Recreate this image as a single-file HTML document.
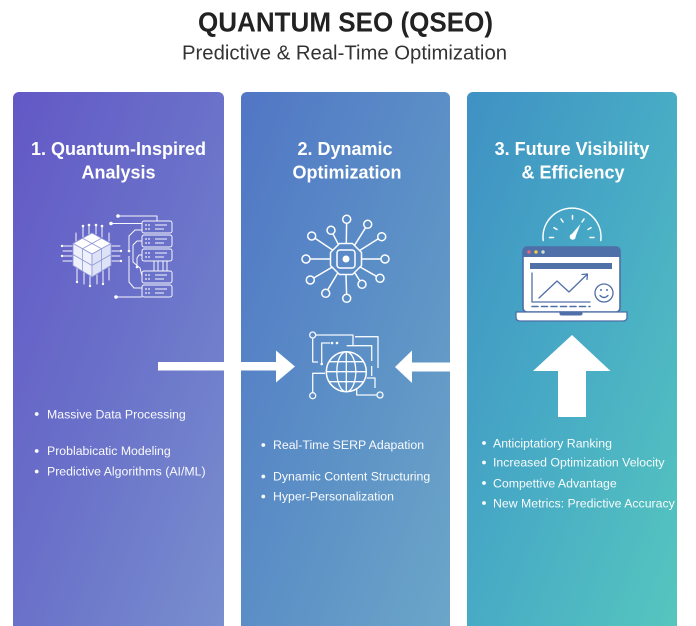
<!DOCTYPE html>
<html><head><meta charset="utf-8"><style>
html,body{margin:0;padding:0;background:#fff;width:696px;height:626px;overflow:hidden}
svg{display:block}
text{font-family:"Liberation Sans",sans-serif}
</style></head><body>
<svg width="696" height="626" viewBox="0 0 696 626" xmlns="http://www.w3.org/2000/svg">
<defs>
<linearGradient id="g1" x1="0" y1="0" x2="1" y2="1"><stop offset="0" stop-color="#6358c6"/><stop offset="0.5" stop-color="#6a72c9"/><stop offset="1" stop-color="#7990ce"/></linearGradient>
<linearGradient id="g2" x1="0" y1="0" x2="1" y2="1"><stop offset="0" stop-color="#5176c5"/><stop offset="0.5" stop-color="#5b8fc6"/><stop offset="1" stop-color="#6ca7c8"/></linearGradient>
<linearGradient id="g3" x1="0" y1="0" x2="1" y2="1"><stop offset="0" stop-color="#3f91c4"/><stop offset="0.5" stop-color="#48acc5"/><stop offset="1" stop-color="#56c7be"/></linearGradient>
</defs>
<rect width="696" height="626" fill="#fff"/>
<!-- titles -->
<text x="345.5" y="31.5" font-size="28" font-weight="bold" fill="#222" text-anchor="middle" textLength="295" lengthAdjust="spacingAndGlyphs">QUANTUM SEO (QSEO)</text>
<text x="344.5" y="59.5" font-size="20" fill="#333" text-anchor="middle" textLength="325" lengthAdjust="spacingAndGlyphs">Predictive &amp; Real-Time Optimization</text>

<!-- panels -->
<rect x="13" y="92" width="211" height="560" rx="6" fill="url(#g1)"/>
<rect x="241" y="92" width="209" height="560" rx="6" fill="url(#g2)"/>
<rect x="467" y="92" width="210" height="560" rx="6" fill="url(#g3)"/>

<!-- panel titles -->
<g font-size="18" font-weight="bold" fill="#fff" text-anchor="middle">
<text x="118.5" y="155">1. Quantum-Inspired</text>
<text x="118.5" y="178.5">Analysis</text>
<text x="345" y="155">2. Dynamic</text>
<text x="347" y="178.5">Optimization</text>
<text x="572" y="155">3. Future Visibility</text>
<text x="573" y="178.5">&amp; Efficiency</text>
</g>

<!-- Panel1 icon: cube -->
<g stroke="#fff" stroke-width="1" fill="none" stroke-linecap="round" opacity="0.95">
<line x1="83" y1="227" x2="83" y2="237"/><line x1="89" y1="226" x2="89" y2="234"/><line x1="96" y1="226" x2="96" y2="234"/><line x1="102" y1="227" x2="102" y2="237"/>
<line x1="76" y1="233" x2="76" y2="241"/><line x1="109" y1="233" x2="109" y2="241"/>
<line x1="63" y1="246" x2="72" y2="246"/><line x1="63" y1="251" x2="72" y2="251"/><line x1="63" y1="256" x2="72" y2="256"/><line x1="63" y1="261" x2="72" y2="261"/>
<line x1="112" y1="246" x2="120" y2="246"/><line x1="112" y1="251" x2="120" y2="251"/><line x1="112" y1="256" x2="120" y2="256"/><line x1="112" y1="261" x2="120" y2="261"/>
<line x1="77" y1="268" x2="77" y2="281"/><line x1="84" y1="272" x2="84" y2="284"/><line x1="90" y1="276" x2="90" y2="285"/><line x1="97" y1="275" x2="97" y2="284"/><line x1="103" y1="271" x2="103" y2="283"/><line x1="109" y1="268" x2="109" y2="280"/>
</g>
<g fill="#fff">
<circle cx="83" cy="226" r="1.3"/><circle cx="89" cy="225" r="1.3"/><circle cx="96" cy="225" r="1.3"/><circle cx="102" cy="226" r="1.3"/>
<circle cx="62" cy="246" r="1.2"/><circle cx="62" cy="256" r="1.2"/><circle cx="121" cy="251" r="1.2"/><circle cx="121" cy="261" r="1.2"/>
<circle cx="77" cy="282" r="1.2"/><circle cx="90" cy="286" r="1.2"/><circle cx="103" cy="284" r="1.2"/>
</g>
<g stroke="#8f98da" stroke-width="0.8" stroke-linejoin="round">
<polygon points="92,233 111,243.5 92,254 73,243.5" fill="#ffffff"/>
<polygon points="73,243.5 92,254 92,277 73,265.5" fill="#eef0fb"/>
<polygon points="92,254 111,243.5 111,265.5 92,277" fill="#dde2f6"/>
<line x1="82.5" y1="238.25" x2="101.5" y2="248.75"/><line x1="101.5" y1="238.25" x2="82.5" y2="248.75"/>
<line x1="82.5" y1="248.75" x2="82.5" y2="271.25"/><line x1="73" y1="254.5" x2="92" y2="265.5"/>
<line x1="101.5" y1="248.75" x2="101.5" y2="271.25"/><line x1="92" y1="265.5" x2="111" y2="254.5"/>
</g>
<!-- servers -->
<g stroke="#fff" stroke-width="1" fill="none" stroke-linejoin="round" opacity="0.95">
<rect x="142" y="221" width="30" height="12" rx="2"/>
<rect x="142" y="235" width="30" height="12" rx="2"/>
<rect x="142" y="249" width="30" height="12" rx="2"/>
<rect x="142" y="271" width="30" height="12" rx="2"/>
<rect x="142" y="285" width="30" height="12" rx="2"/>
<line x1="155" y1="225" x2="167" y2="225"/><line x1="155" y1="229" x2="164" y2="229"/>
<line x1="155" y1="239" x2="167" y2="239"/><line x1="155" y1="243" x2="164" y2="243"/>
<line x1="155" y1="253" x2="167" y2="253"/><line x1="155" y1="257" x2="164" y2="257"/>
<line x1="155" y1="275" x2="167" y2="275"/><line x1="155" y1="279" x2="164" y2="279"/>
<line x1="155" y1="289" x2="167" y2="289"/><line x1="155" y1="293" x2="164" y2="293"/>
<line x1="154" y1="261" x2="154" y2="271"/><line x1="158" y1="261" x2="158" y2="271"/><line x1="163" y1="261" x2="163" y2="271"/><line x1="167" y1="261" x2="167" y2="271"/>
<polyline points="119,216 157,216 157,221"/>
<polyline points="112,223.5 142,223.5"/>
<polyline points="142,230 135,230 129,236 129,250"/>
<polyline points="142,241 137,241 133,245 133,262 140,268 142,276"/>
<polyline points="142,255 139,255 137,258 137,266"/>
<polyline points="129,256 129,282 134,288 142,288"/>
<polyline points="117,297 142,297"/>
</g>
<g fill="#fff">
<circle cx="118" cy="216" r="1.8"/><circle cx="111" cy="223.5" r="1.8"/><circle cx="116" cy="297" r="1.8"/><circle cx="129" cy="251" r="1.3"/><circle cx="137" cy="267" r="1.3"/>
<g opacity="0.95">
<circle cx="146" cy="225" r="0.9"/><circle cx="149" cy="225" r="0.9"/><circle cx="146" cy="229" r="0.9"/><circle cx="149" cy="229" r="0.9"/>
<circle cx="146" cy="239" r="0.9"/><circle cx="149" cy="239" r="0.9"/><circle cx="146" cy="243" r="0.9"/><circle cx="149" cy="243" r="0.9"/>
<circle cx="146" cy="253" r="0.9"/><circle cx="149" cy="253" r="0.9"/><circle cx="146" cy="257" r="0.9"/><circle cx="149" cy="257" r="0.9"/>
<circle cx="146" cy="275" r="0.9"/><circle cx="149" cy="275" r="0.9"/><circle cx="146" cy="279" r="0.9"/><circle cx="149" cy="279" r="0.9"/>
<circle cx="146" cy="289" r="0.9"/><circle cx="149" cy="289" r="0.9"/><circle cx="146" cy="293" r="0.9"/><circle cx="149" cy="293" r="0.9"/>
</g>
</g>

<!-- Panel2 hub -->
<g stroke="#fff" stroke-width="1.5" fill="none" stroke-linejoin="round">
<polygon points="339.5,243.5 352.5,243.5 361.5,252.5 361.5,265.5 352.5,274.5 339.5,274.5 330.5,265.5 330.5,252.5"/>
<rect x="337" y="250" width="18" height="18" rx="3"/>
<line x1="346.3" y1="243" x2="346.6" y2="223.3"/>
<line x1="354.5" y1="245.4" x2="365.6" y2="227.7"/>
<line x1="359.6" y1="250.5" x2="378.3" y2="238.8"/>
<line x1="362" y1="259" x2="381" y2="259"/>
<line x1="359.9" y1="266.9" x2="376.5" y2="276.3"/>
<line x1="354.6" y1="272.5" x2="359.9" y2="280.9"/>
<line x1="346" y1="275" x2="346.6" y2="294.3"/>
<line x1="337.9" y1="272.8" x2="327.7" y2="289.9"/>
<line x1="332.2" y1="267.1" x2="313.7" y2="278"/>
<line x1="330" y1="259" x2="310" y2="259"/>
<line x1="332.7" y1="250.1" x2="315" y2="238.2"/>
<line x1="338.6" y1="244.8" x2="332.9" y2="233.8"/>
<circle cx="346.7" cy="219.3" r="4"/><circle cx="367.7" cy="224.3" r="4"/><circle cx="381.7" cy="236.7" r="4"/><circle cx="385" cy="259" r="4"/>
<circle cx="380" cy="278.3" r="4"/><circle cx="362" cy="284.3" r="4"/><circle cx="346.7" cy="298.3" r="4"/><circle cx="325.7" cy="293.3" r="4"/>
<circle cx="310.3" cy="280" r="4"/><circle cx="306" cy="259" r="4"/><circle cx="311.7" cy="236" r="4"/><circle cx="331" cy="230.3" r="4"/>
</g>
<circle cx="346" cy="259" r="3.5" fill="#fff"/>

<!-- Panel2 globe -->
<g stroke="#fff" stroke-width="1.3" fill="none" stroke-linejoin="round" opacity="0.95">
<polyline points="315.5,335 353,335 353,345"/>
<polyline points="312.7,338 312.7,362 318,362"/>
<polyline points="330,343 321.7,343 321.7,363"/>
<polyline points="346.7,345.7 371.7,345.7 371.7,361"/>
<polyline points="355,336.7 378,336.7 378,368"/>
<polyline points="371.7,376 371.7,366"/>
<polyline points="366.7,378 375,378 375,388"/>
<polyline points="377,395 356.7,395 356.7,388"/>
<polyline points="312.7,392.7 312.7,373.3 325,373.3"/>
<circle cx="312.7" cy="335" r="3"/>
<circle cx="312.7" cy="395.7" r="3"/>
<circle cx="380" cy="395" r="3"/>
</g>
<g fill="#fff"><circle cx="332" cy="343" r="1.3"/><circle cx="337" cy="343" r="1.3"/><circle cx="321.7" cy="364" r="1.3"/></g>
<circle cx="346.3" cy="371.7" r="20" fill="#5d8fc7" stroke="#fff" stroke-width="1.5"/>
<g stroke="#fff" stroke-width="1.3" fill="none">
<ellipse cx="346.3" cy="371.7" rx="9.5" ry="20"/>
<line x1="346.3" y1="351.7" x2="346.3" y2="391.7"/>
<line x1="326.3" y1="371.7" x2="366.3" y2="371.7"/>
<line x1="329" y1="361.7" x2="363.6" y2="361.7"/>
<line x1="329" y1="381.7" x2="363.6" y2="381.7"/>
</g>

<!-- arrows -->
<g fill="#fff">
<rect x="158" y="362" width="120" height="8.5"/>
<polygon points="276,350.5 295,366.5 276,382.5"/>
<rect x="411" y="362.5" width="40" height="9"/>
<polygon points="412,350.5 395,367 412,383"/>
<polygon points="572,335 610.5,371 586,371 586,417 558,417 558,371 533,371"/>
</g>

<!-- Panel3 gauge -->
<g stroke="#fff" stroke-width="1.5" fill="none" stroke-linecap="round">
<path d="M543.2,240.5 A29,29 0 1 1 600.8,240.5"/>
<line x1="549.5" y1="237.5" x2="553.5" y2="237.5"/>
<line x1="554" y1="227.7" x2="557" y2="229.5"/>
<line x1="561" y1="219" x2="563" y2="222"/>
<line x1="572.5" y1="215.5" x2="572.5" y2="219"/>
<line x1="584" y1="219" x2="582" y2="222"/>
<line x1="591" y1="227.7" x2="588" y2="229.5"/>
<line x1="594" y1="237.5" x2="590" y2="237.5"/>
</g>
<polygon points="570.5,235.5 575,238 580.5,224" fill="#fff"/>
<circle cx="572.7" cy="236.7" r="3" fill="#fff"/>

<!-- laptop -->
<rect x="523" y="247" width="97" height="65" rx="4" fill="#fff" stroke="#4d6da7" stroke-width="1.6"/>
<path d="M523,257 L523,251 Q523,247 527,247 L616,247 Q620,247 620,251 L620,257 Z" fill="#4f6fa8"/>
<circle cx="529" cy="252" r="1.7" fill="#e8697c"/><circle cx="536" cy="252" r="1.7" fill="#f3c84d"/><circle cx="543" cy="252" r="1.7" fill="#cfe3d3"/>
<rect x="530" y="263" width="82" height="6" fill="#5070a8"/>
<g stroke="#5070a8" stroke-width="1.3" fill="none" stroke-linejoin="round" stroke-linecap="round">
<polyline points="532,273 532,302 590,302"/>
<line x1="532" y1="306.5" x2="590" y2="306.5" stroke-dasharray="6,3.5" stroke-width="1.6"/>
<polyline points="539,298 557,281 569,292 587,274.5"/>
<polyline points="582,274.5 587.5,274 587,279.5"/>
<circle cx="604" cy="293" r="9"/>
<path d="M600,295.5 Q604,299.5 608,295.5"/>
</g>
<circle cx="601" cy="290" r="1" fill="#5070a8"/><circle cx="607" cy="290" r="1" fill="#5070a8"/>
<path d="M516,312 L627,312 L627,317 Q627,321 623,321 L520,321 Q516,321 516,317 Z" fill="#fff" stroke="#4d6da7" stroke-width="1.3"/>
<path d="M559.5,312 L582.5,312 L582.5,313.5 Q582.5,315.5 580.5,315.5 L561.5,315.5 Q559.5,315.5 559.5,313.5 Z" fill="#4f6fa8"/>

<!-- bullets -->
<g fill="#fff" font-size="12.3" opacity="0.96">
<circle cx="36.7" cy="414" r="1.9"/><text x="47" y="418.3">Massive Data Processing</text>
<circle cx="36.7" cy="451" r="1.9"/><text x="47" y="455">Problabicatic Modeling</text>
<circle cx="36.7" cy="471.5" r="1.9"/><text x="47" y="475.7">Predictive Algorithms (AI/ML)</text>

<circle cx="263.3" cy="445" r="1.9"/><text x="273" y="449">Real-Time SERP Adapation</text>
<circle cx="263.3" cy="476.5" r="1.9"/><text x="273" y="480.7">Dynamic Content Structuring</text>
<circle cx="263.3" cy="496.5" r="1.9"/><text x="273" y="500.7">Hyper-Personalization</text>

<circle cx="484" cy="443" r="1.9"/><text x="493" y="447.3">Anticiptatiory Ranking</text>
<circle cx="484" cy="462.5" r="1.9"/><text x="493" y="466.7">Increased Optimization Velocity</text>
<circle cx="484" cy="483" r="1.9"/><text x="493" y="487.3">Compettive Advantage</text>
<circle cx="484" cy="503" r="1.9"/><text x="493" y="507.3">New Metrics: Predictive Accuracy</text>
</g>
</svg>
</body></html>
